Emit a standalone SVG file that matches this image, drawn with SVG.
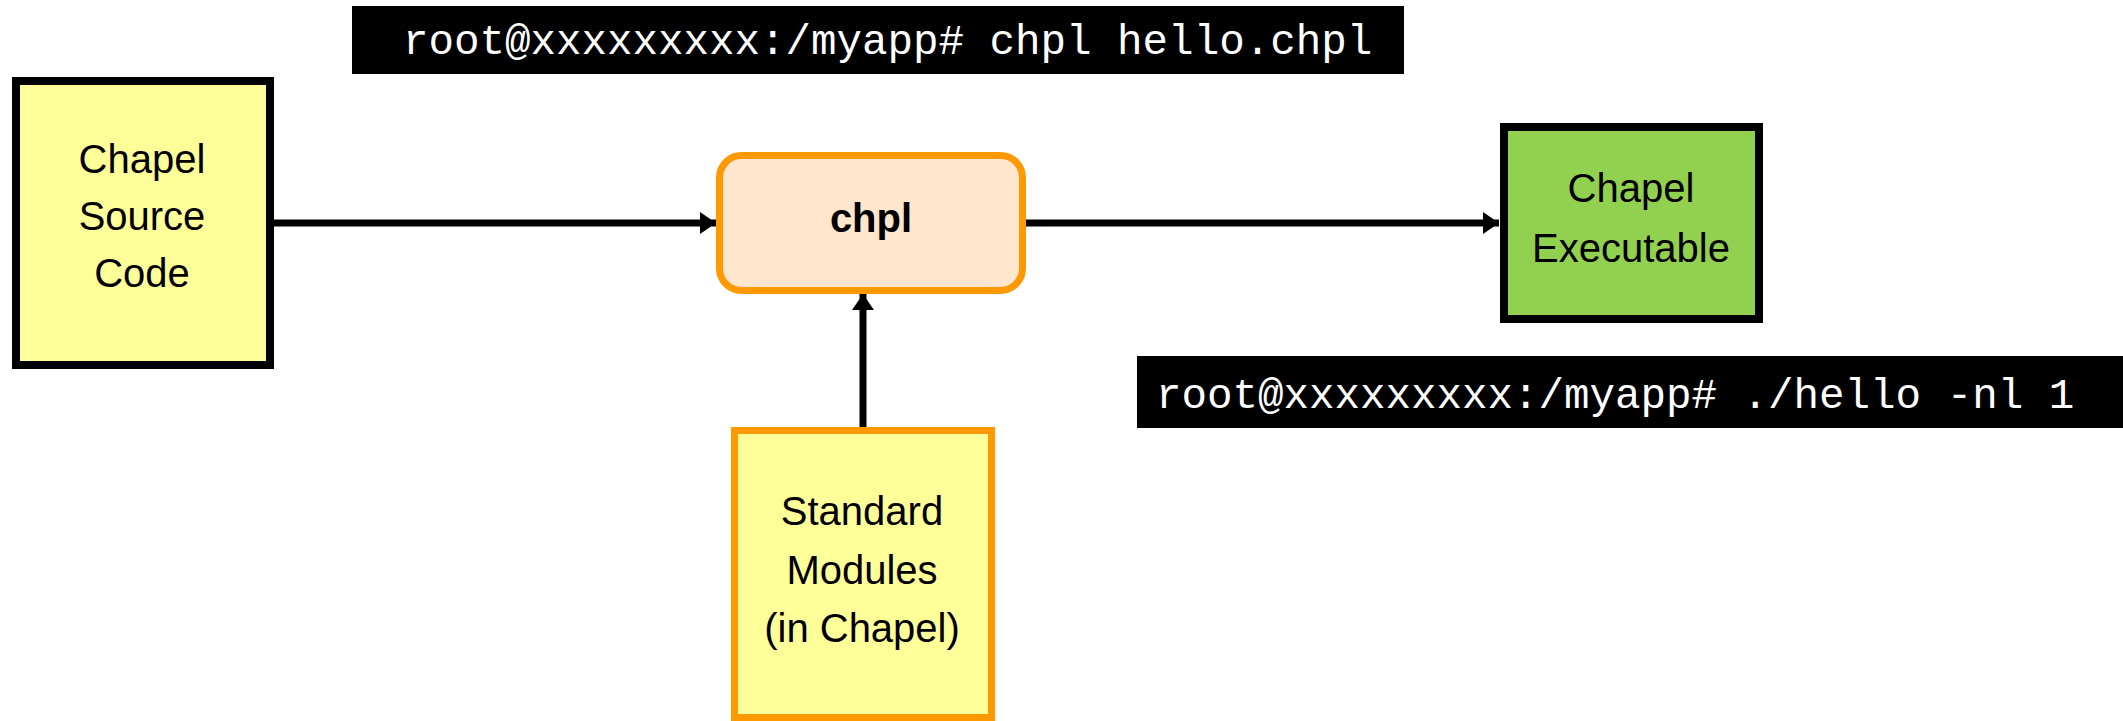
<svg xmlns="http://www.w3.org/2000/svg" width="2123" height="721" viewBox="0 0 2123 721">
<style>
.lbl{font-family:"Liberation Sans","Noto Sans",sans-serif;font-size:40px;fill:#000;text-anchor:middle}
.bold{font-weight:bold}
.term{font-family:"Liberation Mono","Courier New",monospace;font-size:42.5px;fill:#fff}
.conn{stroke:#000;stroke-width:7;fill:none}
</style>
<defs>
<marker id="ah" viewBox="0 0 16 22" refX="16" refY="11" markerWidth="16" markerHeight="22" markerUnits="userSpaceOnUse" orient="auto">
<path d="M0,0 L16,11 L0,22 Z" fill="#000"/>
</marker>
</defs>
<rect width="2123" height="721" fill="#fff"/>
<g id="term1">
<rect x="352" y="6" width="1052" height="68" fill="#000"/>
<text class="term" x="403" y="54">root@xxxxxxxxx:/myapp# chpl hello.chpl</text>
</g>
<g id="term2">
<rect x="1137" y="356" width="986" height="72" fill="#000"/>
<text class="term" x="1156" y="408">root@xxxxxxxxx:/myapp# ./hello -nl 1</text>
</g>
<g id="connectors">
<line class="conn" x1="274" y1="223" x2="716" y2="223" marker-end="url(#ah)"/>
<line class="conn" x1="1026" y1="223" x2="1499" y2="223" marker-end="url(#ah)"/>
<line class="conn" x1="863" y1="429" x2="863" y2="294" marker-end="url(#ah)"/>
</g>
<g id="source">
<rect x="16" y="81" width="254" height="284" fill="#FFFF99" stroke="#000" stroke-width="8"/>
<text class="lbl" x="142" y="173">Chapel</text>
<text class="lbl" x="142" y="230">Source</text>
<text class="lbl" x="142" y="287">Code</text>
</g>
<g id="chpl">
<rect x="719.5" y="155.5" width="303" height="135" rx="22" fill="#FFE6CC" stroke="#FF9900" stroke-width="7"/>
<text class="lbl bold" x="871" y="232">chpl</text>
</g>
<g id="exe">
<rect x="1504" y="127" width="255" height="192" fill="#92D050" stroke="#000" stroke-width="8"/>
<text class="lbl" x="1631" y="202">Chapel</text>
<text class="lbl" x="1631" y="262">Executable</text>
</g>
<g id="modules">
<rect x="734.5" y="430.5" width="257" height="287" fill="#FFFF99" stroke="#FF9900" stroke-width="7"/>
<text class="lbl" x="862" y="525">Standard</text>
<text class="lbl" x="862" y="584">Modules</text>
<text class="lbl" x="862" y="642">(in Chapel)</text>
</g>
</svg>
